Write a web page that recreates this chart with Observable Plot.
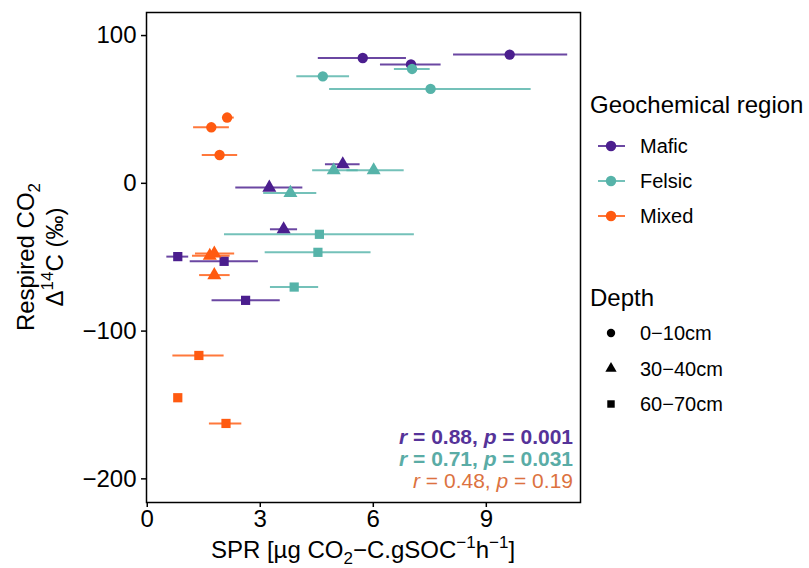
<!DOCTYPE html>
<html><head><meta charset="utf-8">
<script src="https://cdn.jsdelivr.net/npm/d3@7"></script>
<script src="https://cdn.jsdelivr.net/npm/@observablehq/plot@0.6"></script>
<style>body{margin:0;background:#fff} #chart{width:809px;height:568px}</style>
</head><body><div id="chart"></div><script>
// ---- data ----
const regions = ["Mafic", "Felsic", "Mixed"];
const regionColors = ["#4B1E8E", "#56B3A9", "#FF5A10"];
const statColors = ["#553399", "#5AACA6", "#DC7240"];
const depths = ["0\u221210cm", "30\u221240cm", "60\u221270cm"];
const xTicks = [0, 3, 6, 9];
const yTicks = [-200, -100, 0, 100];
const region = [
  "Mafic","Mafic","Mafic","Mafic","Mafic","Mafic","Mafic","Mafic","Mafic",
  "Felsic","Felsic","Felsic","Felsic","Felsic","Felsic","Felsic","Felsic","Felsic",
  "Mixed","Mixed","Mixed","Mixed","Mixed","Mixed","Mixed","Mixed","Mixed"];
const depth = [
  0,0,0,1,1,1,2,2,2,
  0,0,0,1,1,1,2,2,2,
  0,0,0,1,1,1,2,2,2].map(i => depths[i]);
const spr   = [5.72, 7.00, 9.62, 5.19, 3.24, 3.62, 0.81, 2.04, 2.61,
               7.03, 4.66, 7.52, 4.95, 6.01, 3.80, 4.57, 4.53, 3.90,
               2.12, 1.70, 1.92, 1.66, 1.78, 1.78, 1.37, 0.81, 2.09];
const sprLo = [4.54, 6.19, 8.13, 4.73, 2.35, 3.27, 0.52, 1.14, 1.72,
               6.56, 3.97, 4.84, 4.39, 5.30, 3.09, 2.05, 3.13, 3.27,
               2.01, 1.23, 1.46, 1.20, 1.28, 1.39, 0.68, 0.78, 1.65];
const sprHi = [6.88, 7.80, 11.16, 5.65, 4.13, 3.99, 1.10, 2.95, 3.53,
               7.51, 5.37, 10.19, 5.60, 6.82, 4.50, 7.09, 5.94, 4.55,
               2.31, 2.18, 2.40, 2.20, 2.32, 2.20, 2.04, 0.84, 2.51];
const d14c  = [84.8, 80.4, 87.1, 12.9, -2.9, -31.1, -49.6, -52.8, -79.2,
               77.4, 72.4, 63.9, 8.8, 8.8, -6.5, -34.5, -46.7, -70.2,
               44.5, 37.9, 19.2, -49.0, -47.5, -62.1, -116.5, -145.1, -162.5];
const stats = [
  {r: "0.88", p: "0.001", bold: true},
  {r: "0.71", p: "0.031", bold: true},
  {r: "0.48", p: "0.19", bold: false}];

const FONT = "'Liberation Sans', Arial, Helvetica, sans-serif";
const data = spr.map((x, i) => ({region: region[i], depth: depth[i], x, y: d14c[i], lo: sprLo[i], hi: sprHi[i]}));

const plot = Plot.plot({
  width: 809, height: 568,
  marginLeft: 146, marginRight: 229, marginTop: 12, marginBottom: 66,
  style: {fontFamily: FONT, fontSize: "24px", color: "black", background: "white"},
  x: {domain: [-0.02, 11.5], label: null},
  y: {domain: [-216, 115.6], label: null},
  color: {domain: regions, range: regionColors},
  symbol: {domain: depths, range: ["circle", "triangle", "square"]},
  marks: [
    Plot.ruleY(data, {y: "y", x1: "lo", x2: "hi", stroke: "region", strokeWidth: 2, strokeOpacity: 0.82}),
    Plot.dot(data, {x: "x", y: "y", fill: "region", symbol: "depth", r: 5.2, stroke: "none"}),
    Plot.frame({stroke: "black", strokeWidth: 1.5}),
    Plot.axisX({ticks: xTicks, tickSize: 5, tickPadding: 2, fontSize: 24, strokeWidth: 1.5, label: null}),
    Plot.axisY({ticks: yTicks, tickSize: 5, tickPadding: 5, fontSize: 24, strokeWidth: 1.5, label: null})
  ]
});
document.getElementById("chart").appendChild(plot);

const svg = d3.select(plot);
const g = svg.append("g").attr("font-family", FONT).attr("fill", "black").attr("text-anchor", "start");

// x axis title
const xt = g.append("text").attr("x", 363).attr("y", 558).attr("text-anchor", "middle").attr("font-size", 24);
xt.append("tspan").text("SPR [\u00b5g CO");
xt.append("tspan").attr("font-size", 17).attr("dy", 6).text("2");
xt.append("tspan").attr("dy", -6).text("\u2212C.gSOC");
xt.append("tspan").attr("font-size", 17).attr("dy", -10).text("\u22121");
xt.append("tspan").attr("dy", 10).text("h");
xt.append("tspan").attr("font-size", 17).attr("dy", -10).text("\u22121");
xt.append("tspan").attr("dy", 10).text("]");

// y axis title (two lines, rotated)
const yt1 = g.append("text").attr("transform", "translate(34,257) rotate(-90)").attr("text-anchor", "middle").attr("font-size", 24);
yt1.append("tspan").text("Respired CO");
yt1.append("tspan").attr("font-size", 17).attr("dy", 6).text("2");
const yt2 = g.append("text").attr("transform", "translate(63,257) rotate(-90)").attr("text-anchor", "middle").attr("font-size", 24);
yt2.append("tspan").text("\u0394");
yt2.append("tspan").attr("font-size", 17).attr("dy", -10).text("14");
yt2.append("tspan").attr("dy", 10).text("C (\u2030)");

// stats annotation
stats.forEach((s, i) => {
  const t = g.append("text").attr("x", 573).attr("y", 444 + i * 22).attr("text-anchor", "end")
    .attr("font-size", 21).attr("fill", statColors[i]).attr("font-weight", s.bold ? "bold" : "normal");
  t.append("tspan").attr("font-style", "italic").text("r");
  t.append("tspan").text(" = " + s.r + ", ");
  t.append("tspan").attr("font-style", "italic").text("p");
  t.append("tspan").text(" = " + s.p);
});

// legends
g.append("text").attr("x", 590).attr("y", 113).attr("font-size", 24).text("Geochemical region");
regions.forEach((r, i) => {
  const y = 146 + i * 35;
  g.append("line").attr("x1", 598).attr("x2", 625).attr("y1", y).attr("y2", y)
    .attr("stroke", regionColors[i]).attr("stroke-width", 2).attr("stroke-opacity", 0.82);
  g.append("circle").attr("cx", 611).attr("cy", y).attr("r", 5.2).attr("fill", regionColors[i]);
  g.append("text").attr("x", 640).attr("y", y + 7).attr("font-size", 20).text(r);
});
g.append("text").attr("x", 590).attr("y", 306).attr("font-size", 24).text("Depth");
const sym = [d3.symbolCircle, d3.symbolTriangle, d3.symbolSquare];
depths.forEach((d, i) => {
  const y = 333 + i * 35.5;
  g.append("path").attr("transform", `translate(611,${y})`)
    .attr("d", d3.symbol(sym[i], Math.PI * 4.2 * 4.2)()).attr("fill", "black");
  g.append("text").attr("x", 640).attr("y", y + 7).attr("font-size", 20).text(d);
});
</script></body></html>
